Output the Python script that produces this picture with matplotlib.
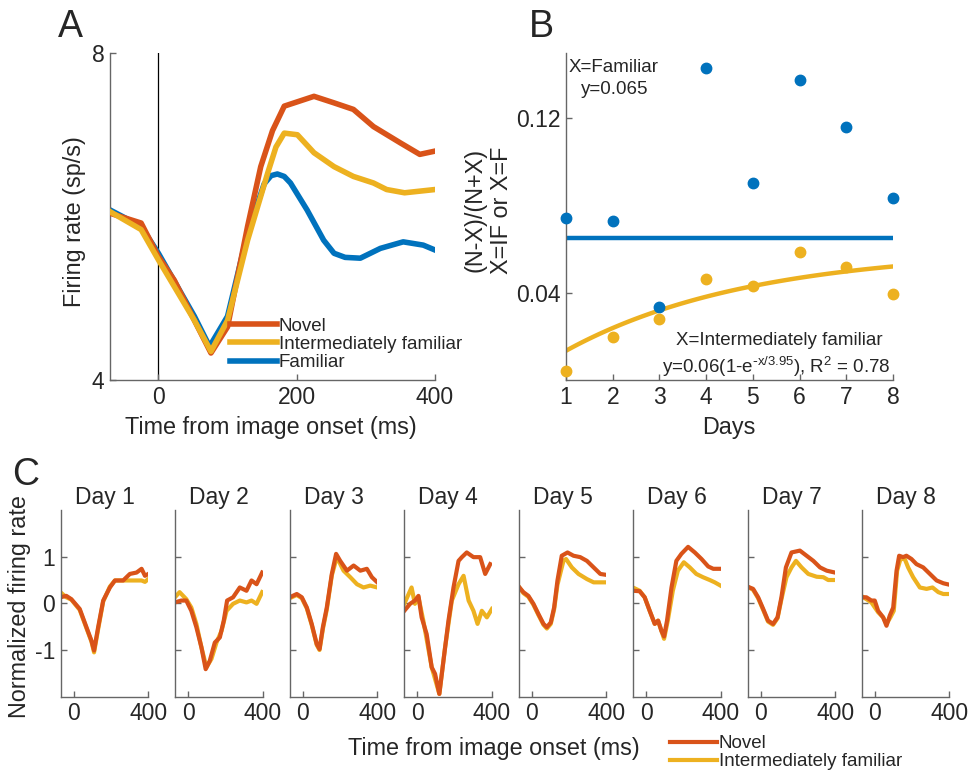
import matplotlib
matplotlib.use("Agg")
import matplotlib.pyplot as plt
import numpy as np

plt.rcParams['font.family'] = ['Liberation Sans', 'DejaVu Sans']
plt.rcParams['mathtext.default'] = 'regular'
plt.rcParams['axes.unicode_minus'] = False
plt.rcParams['text.color'] = '#262626'

NOVEL_C = '#D95319'
INTER_C = '#EDB120'
FAM_C = '#0072BD'
AX_C = '0.4'

# --- Panel A: population firing rate ---
t_novel = [-70, -25, 0, 23, 52, 76, 100, 129, 148, 165, 182, 225, 254, 282, 311, 350, 378, 400]
fr_novel = [6.04, 5.92, 5.51, 5.22, 4.73, 4.33, 4.65, 5.88, 6.61, 7.05, 7.35, 7.47, 7.39, 7.31, 7.10, 6.90, 6.76, 6.80]
t_inter = [-70, -25, 0, 52, 76, 100, 129, 158, 170, 182, 201, 225, 254, 282, 311, 330, 356, 400]
fr_inter = [6.06, 5.84, 5.47, 4.73, 4.35, 4.73, 5.71, 6.53, 6.85, 7.02, 7.00, 6.78, 6.61, 6.49, 6.41, 6.33, 6.29, 6.33]
t_fam = [-70, -25, 0, 52, 74, 100, 129, 153, 163, 172, 182, 191, 215, 239, 254, 270, 292, 321, 354, 383, 400]
fr_fam = [6.08, 5.88, 5.55, 4.78, 4.41, 4.78, 5.80, 6.40, 6.50, 6.52, 6.49, 6.41, 6.08, 5.71, 5.55, 5.50, 5.49, 5.61, 5.69, 5.65, 5.59]

# --- Panel B: selectivity index per day ---
days = [1, 2, 3, 4, 5, 6, 7, 8]
idx_fam = [0.0742, 0.0730, 0.0337, 0.1431, 0.0903, 0.1378, 0.1159, 0.0834]
idx_inter = [0.0043, 0.0199, 0.0280, 0.0462, 0.0433, 0.0586, 0.0520, 0.0395]
fam_mean = 0.065
fit_amp, fit_tau = 0.06, 3.95

# --- Panel C: normalized firing rate per day ---
day_novel = [
    ([-72, -40, -13, 32, 68, 95, 109, 131, 158, 194, 221, 265, 301, 337, 364, 382, 400],
     [0.13, 0.16, 0.09, -0.12, -0.51, -0.80, -1.01, -0.51, 0.06, 0.34, 0.49, 0.49, 0.63, 0.66, 0.74, 0.59, 0.63]),
    ([-72, -38, -11, 16, 43, 70, 93, 115, 142, 169, 190, 208, 240, 276, 312, 339, 366, 396],
     [0.02, 0.06, 0.06, -0.16, -0.51, -0.94, -1.41, -1.23, -0.84, -0.73, -0.37, 0.06, 0.13, 0.34, 0.27, 0.49, 0.41, 0.66]),
    ([-70, -32, -5, 22, 48, 75, 90, 108, 129, 156, 179, 201, 237, 273, 309, 344, 371, 400],
     [0.13, 0.20, 0.13, -0.09, -0.44, -0.87, -0.98, -0.51, -0.09, 0.63, 1.06, 0.91, 0.70, 0.81, 0.70, 0.74, 0.56, 0.45]),
    ([-70, -39, -13, 6, 23, 50, 77, 95, 118, 140, 167, 194, 221, 239, 265, 301, 337, 364, 391],
     [-0.16, -0.01, 0.06, 0.16, -0.30, -0.66, -1.37, -1.51, -1.94, -1.23, -0.37, 0.34, 0.91, 0.99, 1.09, 0.99, 0.99, 0.63, 0.84]),
    ([-70, -45, -18, 9, 36, 63, 81, 102, 120, 138, 161, 192, 224, 260, 296, 332, 368, 400],
     [0.36, 0.24, 0.16, -0.01, -0.23, -0.44, -0.51, -0.41, -0.09, 0.49, 1.02, 1.09, 1.02, 0.99, 0.91, 0.77, 0.63, 0.61]),
    ([-72, -36, -9, 18, 45, 63, 81, 95, 111, 135, 161, 188, 224, 260, 296, 332, 359, 398],
     [0.27, 0.26, 0.13, -0.16, -0.44, -0.37, -0.59, -0.71, -0.37, 0.34, 0.91, 1.06, 1.21, 1.09, 0.95, 0.79, 0.74, 0.74]),
    ([-72, -41, -14, 13, 39, 66, 90, 111, 135, 165, 210, 246, 282, 318, 354, 398],
     [0.36, 0.31, 0.13, -0.12, -0.37, -0.44, -0.30, 0.13, 0.77, 1.09, 1.13, 1.02, 0.91, 0.77, 0.70, 0.66]),
    ([-72, -45, -18, 0, 18, 45, 63, 81, 99, 117, 131, 152, 170, 197, 224, 260, 296, 332, 368, 400],
     [0.13, 0.13, 0.06, 0.06, -0.16, -0.30, -0.48, -0.26, -0.09, 0.70, 1.02, 0.99, 1.02, 0.95, 0.84, 0.77, 0.63, 0.49, 0.43, 0.40]),
]
day_inter = [
    ([-72, -40, -13, 32, 68, 95, 109, 131, 158, 194, 221, 265, 301, 337, 364, 382, 400],
     [0.24, 0.13, 0.08, -0.14, -0.53, -0.82, -1.05, -0.55, 0.04, 0.36, 0.49, 0.49, 0.49, 0.49, 0.49, 0.46, 0.52]),
    ([-72, -47, -11, 16, 43, 70, 97, 124, 151, 178, 205, 240, 276, 312, 339, 366, 396],
     [0.13, 0.24, 0.09, -0.09, -0.44, -0.94, -1.37, -1.19, -0.84, -0.59, -0.16, -0.01, 0.06, 0.02, 0.06, -0.01, 0.24]),
    ([-70, -32, -5, 22, 48, 75, 90, 108, 129, 156, 183, 219, 255, 291, 326, 362, 400],
     [0.11, 0.18, 0.11, -0.11, -0.46, -0.89, -1.00, -0.55, -0.13, 0.60, 0.99, 0.70, 0.56, 0.41, 0.34, 0.38, 0.34]),
    ([-70, -31, -13, 6, 32, 77, 118, 149, 185, 221, 248, 275, 301, 323, 346, 373, 400],
     [-0.01, 0.34, -0.01, 0.13, -0.37, -1.37, -1.94, -0.94, 0.06, 0.41, 0.59, 0.06, -0.16, -0.44, -0.16, -0.30, -0.12]),
    ([-70, -45, -18, 9, 36, 63, 81, 102, 120, 138, 170, 184, 215, 251, 296, 332, 368, 400],
     [0.36, 0.22, 0.14, -0.03, -0.25, -0.46, -0.54, -0.44, -0.13, 0.40, 0.91, 0.95, 0.77, 0.63, 0.52, 0.45, 0.45, 0.45]),
    ([-72, -36, -9, 18, 45, 63, 81, 95, 115, 142, 169, 201, 233, 268, 304, 340, 367, 398],
     [0.34, 0.27, 0.13, -0.16, -0.44, -0.37, -0.59, -0.76, -0.37, 0.27, 0.70, 0.88, 0.77, 0.63, 0.56, 0.50, 0.45, 0.38]),
    ([-72, -41, -14, 13, 39, 66, 90, 111, 138, 165, 189, 219, 255, 300, 336, 362, 398],
     [0.36, 0.29, 0.11, -0.14, -0.39, -0.46, -0.32, 0.09, 0.56, 0.77, 0.91, 0.77, 0.63, 0.57, 0.56, 0.50, 0.50]),
    ([-72, -45, -18, 18, 45, 63, 84, 102, 120, 138, 161, 179, 206, 242, 278, 310, 341, 368, 400],
     [0.16, 0.09, 0.02, -0.19, -0.30, -0.44, -0.30, -0.16, 0.70, 0.95, 0.95, 0.77, 0.56, 0.34, 0.31, 0.34, 0.24, 0.20, 0.20]),
]
day_labels = ['Day 1', 'Day 2', 'Day 3', 'Day 4', 'Day 5', 'Day 6', 'Day 7', 'Day 8']

W, H = 968, 775


def px_axes(fig, left, top, right, bottom):
    return fig.add_axes([left / W, 1 - bottom / H, (right - left) / W, (bottom - top) / H])


def style(ax, fs=16.5):
    for s in ['top', 'right']:
        ax.spines[s].set_visible(False)
    for s in ['left', 'bottom']:
        ax.spines[s].set_color(AX_C)
        ax.spines[s].set_linewidth(1.0)
    ax.tick_params(direction='in', length=4, width=1.0, color=AX_C,
                   labelsize=fs, labelcolor='#262626', pad=4)


fig = plt.figure(figsize=(W / 100, H / 100), dpi=100)

# Panel A
axA = px_axes(fig, 110, 53, 435, 380)
style(axA)
axA.axvline(0, color='black', lw=0.9, zorder=1)
axA.plot(t_novel, fr_novel, color=NOVEL_C, lw=4, label='Novel', zorder=3)
axA.plot(t_fam, fr_fam, color=FAM_C, lw=4, label='Familiar', zorder=2)
axA.plot(t_inter, fr_inter, color=INTER_C, lw=4, label='Intermediately familiar', zorder=4)
axA.set_xlim(-70, 400)
axA.set_ylim(4, 8)
axA.set_xticks([0, 200, 400])
axA.set_yticks([4, 8])
hA, lA = axA.get_legend_handles_labels()
order = [0, 2, 1]
axA.legend([hA[i] for i in order], [lA[i] for i in order], loc='upper left',
           bbox_to_anchor=(0.369, 0.19), frameon=False, fontsize=13.5,
           handlelength=2.5, handletextpad=0.1, labelspacing=0.05,
           borderpad=0, borderaxespad=0)
fig.text(271 / W, 1 - 427 / H, 'Time from image onset (ms)', ha='center', va='center', fontsize=16.8)
fig.text(75 / W, 1 - 222 / H, 'Firing rate (sp/s)', ha='center', va='center', rotation=90, fontsize=16.8)

# Panel B
axB = px_axes(fig, 566, 53, 893, 380)
style(axB)
axB.axhline(fam_mean, xmin=0, xmax=1, color=FAM_C, lw=3.2, zorder=2)
xf = np.linspace(1, 8, 100)
axB.plot(xf, fit_amp * (1 - np.exp(-xf / fit_tau)), color=INTER_C, lw=3.2, zorder=2)
axB.plot(days, idx_fam, 'o', color=FAM_C, ms=7.5, clip_on=False, zorder=3)
axB.plot(days, idx_inter, 'o', color=INTER_C, ms=7.5, clip_on=False, zorder=3)
axB.set_xlim(1, 8)
axB.set_ylim(0, 0.15)
axB.set_xticks(days)
axB.set_yticks([0.04, 0.12])
axB.set_yticklabels(['0.04', '0.12'])
fig.text(569 / W, 1 - 67 / H, 'X=Familiar', ha='left', va='center', fontsize=13.5)
fig.text(581 / W, 1 - 89 / H, 'y=0.065', ha='left', va='center', fontsize=13.5)
fig.text(883 / W, 1 - 341 / H, 'X=Intermediately familiar', ha='right', va='center', fontsize=13.5)
fig.text(891 / W, 1 - 367 / H, r'y=0.06(1-e$^{\text{-}x/3.95}$), R$^2$ = 0.78', ha='right', va='center', fontsize=13.5)
fig.text(729 / W, 1 - 427 / H, 'Days', ha='center', va='center', fontsize=16.8)
fig.text(475 / W, 1 - 210 / H, '(N-X)/(N+X)', ha='center', va='center', rotation=90, fontsize=16.8)
fig.text(501 / W, 1 - 210 / H, 'X=IF or X=F', ha='center', va='center', rotation=90, fontsize=16.8)

# Panel C
lefts = [60.7, 175.3, 289.7, 404.3, 518.7, 633.3, 747.7, 861.7]
for i, left in enumerate(lefts):
    ax = px_axes(fig, left, 510, left + 87.6, 696.7)
    style(ax)
    tn, yn = day_novel[i]
    ti, yi = day_inter[i]
    ax.plot(ti, yi, color=INTER_C, lw=3, label='Intermediately familiar')
    ax.plot(tn, yn, color=NOVEL_C, lw=3, label='Novel')
    ax.set_xlim(-70, 400)
    ax.set_ylim(-2, 2)
    ax.set_xticks([0, 400])
    ax.set_yticks([-1, 0, 1])
    if i > 0:
        ax.set_yticklabels([])
    ax.set_title(day_labels[i], fontsize=16.5, pad=4, color='#262626')
    if i == 0:
        hC, lC = ax.get_legend_handles_labels()

fig.legend(hC[::-1], lC[::-1], loc='upper left', bbox_to_anchor=(670 / W, 1 - 735 / H),
           frameon=False, fontsize=13.5, handlelength=2.5, handletextpad=0.1,
           labelspacing=0.05, borderpad=0, borderaxespad=0)
fig.text(494 / W, 1 - 749 / H, 'Time from image onset (ms)', ha='center', va='center', fontsize=16.8)
fig.text(20 / W, 1 - 607 / H, 'Normalized firing rate', ha='center', va='center', rotation=90, fontsize=16.8)

# Panel letters
fig.text(58 / W, 1 - 37 / H, 'A', ha='left', va='baseline', fontsize=27)
fig.text(529 / W, 1 - 37 / H, 'B', ha='left', va='baseline', fontsize=27)
fig.text(12 / W, 1 - 485 / H, 'C', ha='left', va='baseline', fontsize=27)

fig.savefig('out.png', dpi=100)
